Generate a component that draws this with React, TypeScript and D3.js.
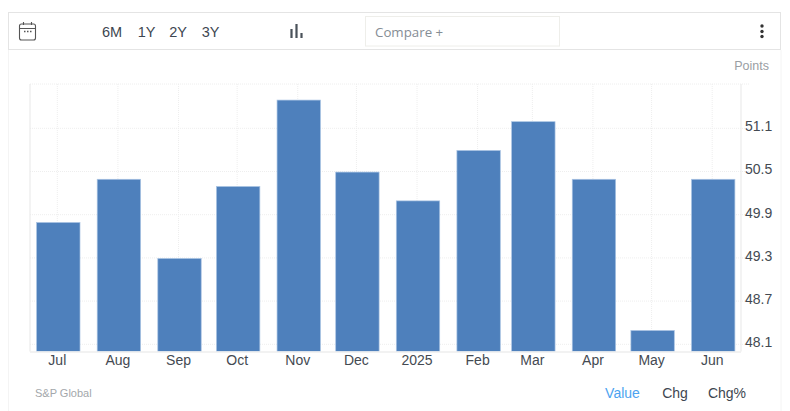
import React, { useEffect, useRef } from 'react';
import * as d3 from 'd3';

const months = ['2024-07-01', '2024-08-01', '2024-09-01', '2024-10-01', '2024-11-01', '2024-12-01', '2025-01-01', '2025-02-01', '2025-03-01', '2025-04-01', '2025-05-01', '2025-06-01'];
const monthLabels = ['Jul', 'Aug', 'Sep', 'Oct', 'Nov', 'Dec', '2025', 'Feb', 'Mar', 'Apr', 'May', 'Jun'];
const values = [49.8, 50.4, 49.3, 50.3, 51.5, 50.5, 50.1, 50.8, 51.2, 50.4, 48.3, 50.4];
const yTicks = [48.1, 48.7, 49.3, 49.9, 50.5, 51.1];
const rangeButtons = ['6M', '1Y', '2Y', '3Y'];
const rangeButtonX = [112, 146.5, 178, 210.5];
const viewTabs = ['Value', 'Chg', 'Chg%'];
const viewTabX = [622.5, 675, 727];

const FONT = '"Liberation Sans", Arial, sans-serif';
const dates = months.map(m => new Date(m + 'T00:00:00Z'));

const App: React.FC = () => {
  const svgRef = useRef<SVGSVGElement | null>(null);

  useEffect(() => {
    if (!svgRef.current) return;

    const width = 790;
    const height = 411;
    const plotLeft = 30;
    const plotRight = 741;
    const plotTop = 84;
    const plotBottom = 351.5;
    const barWidth = 43.4;

    const svg = d3.select(svgRef.current)
      .attr('width', width)
      .attr('height', height)
      .attr('viewBox', `0 0 ${width} ${height}`)
      .style('position', 'absolute')
      .style('left', 0)
      .style('top', 0)
      .style('font-family', FONT);

    svg.selectAll('*').remove();

    // months are not evenly spaced on the original, so this has to be a time scale
    const x = d3.scaleUtc()
      .domain([dates[0], dates[dates.length - 1]])
      .range([57.8, 712.7]);

    const y = d3.scaleLinear()
      .domain([48, 51.715])
      .range([plotBottom, plotTop]);

    // page frame
    svg.append('path')
      .attr('d', `M8.5 50V411M781 50V411`)
      .attr('stroke', '#f4f4f4')
      .attr('fill', 'none');

    // toolbar
    svg.append('rect')
      .attr('x', 8.5).attr('y', 12.5).attr('width', 772).attr('height', 37)
      .attr('fill', '#fff').attr('stroke', '#e4e4e4');
    svg.append('rect')
      .attr('x', 365.5).attr('y', 16.5).attr('width', 194).attr('height', 29.5)
      .attr('fill', '#fff').attr('stroke', '#eeeeea');
    svg.append('text')
      .attr('x', 375).attr('y', 36.5)
      .attr('font-family', '"Open Sans", sans-serif').attr('font-size', 13.3)
      .attr('fill', '#858d95')
      .text('Compare +');

    svg.selectAll('.range').data(rangeButtons).join('text')
      .attr('class', 'range')
      .attr('x', (_, i) => rangeButtonX[i]).attr('y', 37)
      .attr('text-anchor', 'middle').attr('font-size', 14.5).attr('fill', '#3d4650')
      .text(d => d);

    // calendar icon
    const cal = svg.append('g').attr('fill', 'none').attr('stroke', '#555').attr('stroke-width', 1.1);
    cal.append('rect').attr('x', 19.5).attr('y', 24).attr('width', 16).attr('height', 16).attr('rx', 2);
    cal.append('path').attr('d', 'M19.5 28.5H35.5M23.5 22V25M31.5 22V25');
    cal.append('path').attr('d', 'M24 31.5H31.5').attr('stroke-dasharray', '1.5 1.5').attr('stroke-width', 1.4);

    // chart type icon
    svg.append('path')
      .attr('d', 'M291.5 38V29M296.5 38V24M301.5 38V33')
      .attr('stroke', '#4a525a').attr('stroke-width', 2.2).attr('fill', 'none');

    // kebab menu
    svg.selectAll('.dot').data([26, 31.5, 36.5]).join('circle')
      .attr('class', 'dot')
      .attr('cx', 762).attr('cy', d => d).attr('r', 1.7).attr('fill', '#333');

    svg.append('text')
      .attr('x', 769).attr('y', 70)
      .attr('text-anchor', 'end').attr('font-size', 12.5).attr('fill', '#9a9ea3')
      .text('Points');

    // grid
    const grid = svg.append('g').attr('stroke', '#eeeeee').attr('stroke-dasharray', '1 1').attr('fill', 'none');
    grid.selectAll('.gy').data(yTicks).join('line')
      .attr('class', 'gy')
      .attr('x1', plotLeft).attr('x2', 749)
      .attr('y1', d => y(d)).attr('y2', d => y(d));
    grid.append('line')
      .attr('x1', plotLeft).attr('x2', 749).attr('y1', plotTop).attr('y2', plotTop);
    grid.selectAll('.gx').data(dates).join('line')
      .attr('class', 'gx')
      .attr('x1', d => x(d) - 0.5).attr('x2', d => x(d) - 0.5)
      .attr('y1', plotTop).attr('y2', plotBottom);

    // frame lines of the plot
    svg.append('path')
      .attr('d', `M${plotLeft} ${plotTop}V${plotBottom}M${plotRight} ${plotTop}V${plotBottom}`)
      .attr('stroke', '#ececec').attr('stroke-width', 1.2).attr('fill', 'none');

    // bars
    svg.selectAll('.bar').data(values).join('rect')
      .attr('class', 'bar')
      .attr('x', (_, i) => x(dates[i]) - barWidth / 2 + 0.5)
      .attr('y', d => y(d) + 0.6)
      .attr('width', barWidth)
      .attr('height', d => plotBottom - y(d) - 0.6)
      .attr('fill', '#4e80bc')
      .attr('stroke', '#a9c3e3')
      .attr('stroke-width', 0.7);

    // baseline sits above the bars' feet
    svg.append('line')
      .attr('x1', plotLeft).attr('x2', plotRight).attr('y1', plotBottom + 0.5).attr('y2', plotBottom + 0.5)
      .attr('stroke', '#eeeeee').attr('stroke-width', 1.5);

    // axes
    const xAxis = d3.axisBottom(x)
      .tickValues(dates)
      .tickSize(0)
      .tickPadding(0)
      .tickFormat((_, i) => monthLabels[i]);
    svg.append('g')
      .attr('transform', `translate(-1,${plotBottom})`)
      .call(xAxis)
      .call(g => g.select('.domain').remove())
      .call(g => g.selectAll('text')
        .attr('font-family', FONT).attr('font-size', 14).attr('fill', '#444a52').attr('dy', '1em').attr('y', -1));

    const yAxis = d3.axisRight(y)
      .tickValues(yTicks)
      .tickSize(0)
      .tickPadding(0)
      .tickFormat(d3.format('.1f'));
    svg.append('g')
      .attr('transform', `translate(745,0)`)
      .call(yAxis)
      .call(g => g.select('.domain').remove())
      .call(g => g.selectAll('text')
        .attr('font-family', FONT).attr('font-size', 14).attr('fill', '#444a52').attr('y', -2));

    // footer
    svg.append('text')
      .attr('x', 35).attr('y', 397)
      .attr('font-size', 11).attr('fill', '#a3a7ab')
      .text('S&P Global');

    svg.selectAll('.tab').data(viewTabs).join('text')
      .attr('class', 'tab')
      .attr('x', (_, i) => viewTabX[i]).attr('y', 398)
      .attr('text-anchor', 'middle').attr('font-size', 14)
      .attr('fill', (_, i) => (i === 0 ? '#4da3f0' : '#3d4650'))
      .text(d => d);
  }, []);

  return <svg ref={svgRef}></svg>;
};

export default App;
